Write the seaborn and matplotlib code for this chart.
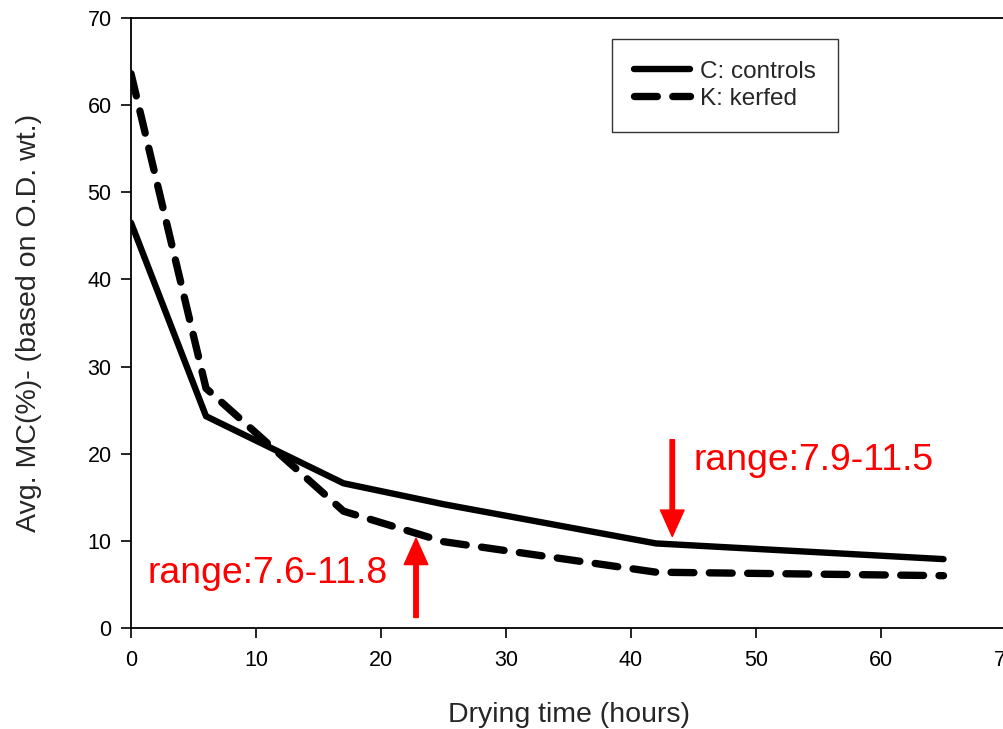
import pandas as pd
import matplotlib.pyplot as plt
import seaborn as sns

# drying curves
hours = [0, 6, 17, 25, 42, 65]
controls_mc = [46.5, 24.3, 16.6, 14.2, 9.7, 7.9]
kerfed_mc = [63.6, 27.5, 13.4, 9.9, 6.4, 6.0]
series_names = ["C: controls", "K: kerfed"]

df_c = pd.DataFrame({"hours": hours, "mc": controls_mc})
df_k = pd.DataFrame({"hours": hours, "mc": kerfed_mc})

sns.set_style("ticks")
plt.rcParams['font.family'] = ['Liberation Sans', 'DejaVu Sans']

fig = plt.figure(figsize=(10.04, 7.29), dpi=100)
ax = fig.add_axes([0.1305, 0.1386, 0.8715, 0.8368])

sns.lineplot(data=df_c, x="hours", y="mc", color="black", linewidth=4.6,
             ax=ax, label=series_names[0], solid_capstyle="round")
sns.lineplot(data=df_k, x="hours", y="mc", color="black", linewidth=5.3,
             ax=ax, label=series_names[1], linestyle=(0, (3.1, 2.1)),
             dash_capstyle="round")

ax.set_xlim(0, 70)
ax.set_ylim(0, 70)
ax.set_xticks(range(0, 71, 10))
ax.set_yticks(range(0, 71, 10))
ax.tick_params(direction="out", length=7, width=1.2, labelsize=15.5, colors="black")
ax.tick_params(axis="x", pad=9)
ax.tick_params(axis="y", pad=7)
for s in ax.spines.values():
    s.set_linewidth(1.3)
    s.set_color("black")

ax.set_xlabel("Drying time (hours)", fontsize=20.5, labelpad=22)
ax.set_ylabel("Avg. MC(%)- (based on O.D. wt.)", fontsize=20.5, labelpad=33)

# legend
leg = ax.legend(loc="upper left", bbox_to_anchor=(0.55, 0.966), fontsize=17.5,
                frameon=True, fancybox=False, edgecolor="black",
                handlelength=2.3, borderpad=0.9, labelspacing=0.22,
                handletextpad=0.4, borderaxespad=0)
leg.get_frame().set_linewidth(1.0)

# red range annotations
arrow = dict(facecolor="red", edgecolor="red", width=3.2, headwidth=17,
             headlength=19, shrink=0)
ax.annotate("", xy=(43.3, 10.5), xytext=(43.3, 21.6), arrowprops=arrow)
ax.annotate("", xy=(22.8, 10.3), xytext=(22.8, 1.2), arrowprops=arrow)
ax.text(45.0, 19.2, "range:7.9-11.5", color="red", fontsize=26.9, va="center")
ax.text(1.3, 6.3, "range:7.6-11.8", color="red", fontsize=26.9, va="center")

fig.savefig("out.png", dpi=100)
